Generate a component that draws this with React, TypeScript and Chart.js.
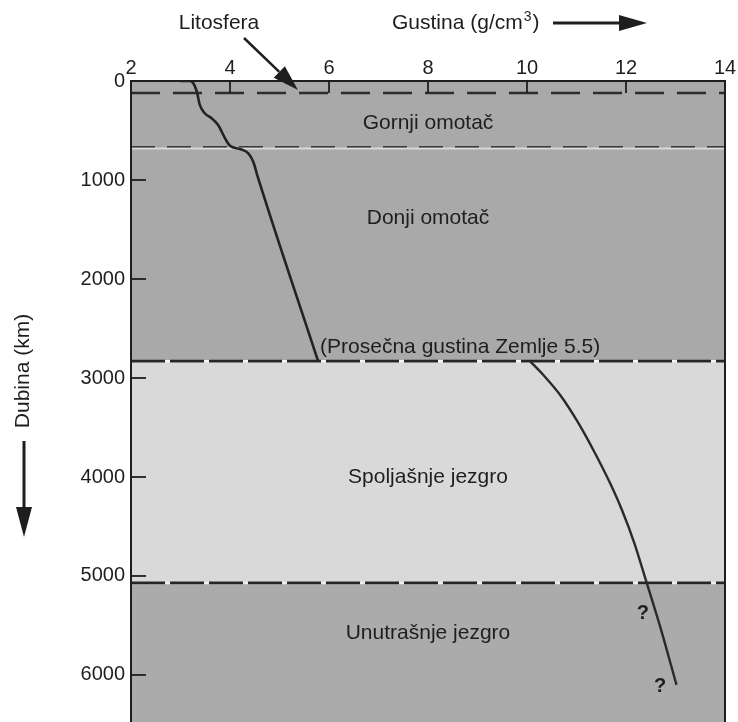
import React, { useEffect, useRef } from "react";
import { Chart, registerables } from "chart.js";

Chart.register(...registerables);

// ---- data ----
const X_TICKS = [2, 4, 6, 8, 10, 12, 14];
const Y_TICKS = [0, 1000, 2000, 3000, 4000, 5000, 6000];
const X_MIN = 2;
const X_MAX = 14;
const Y_MIN = 0;
const Y_MAX = 6475;

const MANTLE_DENSITY = [2.99, 3.19, 3.26, 3.33, 3.39, 3.49, 3.63, 3.76, 3.9, 4.0, 4.2, 4.37, 4.47, 4.55, 5.78];
const MANTLE_DEPTH = [0, 0, 23, 108, 242, 326, 377, 444, 579, 654, 687, 730, 815, 950, 2830];

const CORE_DENSITY = [10.06, 10.33, 10.67, 11.0, 11.34, 11.68, 11.92, 12.17, 12.4, 12.69, 13.02];
const CORE_DEPTH = [2830, 2970, 3172, 3424, 3727, 4064, 4336, 4670, 5040, 5512, 6100];

const LITHOSPHERE_DEPTH = 120;
const UPPER_LOWER_DEPTH = 670;
const CMB_DEPTH = 2830;
const ICB_DEPTH = 5070;

const LAYER_TOPS = [0, 670, 2830, 5070];
const LAYER_BOTTOMS = [670, 2830, 5070, 6475];
const LAYER_NAMES = ["Gornji omotač", "Donji omotač", "Spoljašnje jezgro", "Unutrašnje jezgro"];
const LAYER_LABEL_DEPTHS = [424, 1384, 4000, 5576];
const LAYER_LABEL_DENSITY = 8;

const MEAN_LABEL = "(Prosečna gustina Zemlje 5.5)";
const MEAN_LABEL_DENSITY = 5.82;
const MEAN_LABEL_DEPTH = 2687;

const QUESTION_DENSITY = [12.34, 12.69];
const QUESTION_DEPTH = [5374, 6121];

const FONT = "'Liberation Sans', Arial, sans-serif";
const INK = "#1e1e1e";

function toPoints(xs: number[], ys: number[]) {
  return xs.map((x, i) => ({ x, y: ys[i] }));
}

function hLine(ctx: CanvasRenderingContext2D, x1: number, x2: number, y: number, color: string, width: number, dash: number[]) {
  ctx.save();
  ctx.strokeStyle = color;
  ctx.lineWidth = width;
  ctx.setLineDash(dash);
  ctx.beginPath();
  ctx.moveTo(x1, y);
  ctx.lineTo(x2, y);
  ctx.stroke();
  ctx.restore();
}

function arrow(ctx: CanvasRenderingContext2D, x1: number, y1: number, x2: number, y2: number, width: number, headLen: number, headHalf: number) {
  const ang = Math.atan2(y2 - y1, x2 - x1);
  const bx = x2 - headLen * Math.cos(ang);
  const by = y2 - headLen * Math.sin(ang);
  ctx.save();
  ctx.strokeStyle = INK;
  ctx.fillStyle = INK;
  ctx.lineWidth = width;
  ctx.beginPath();
  ctx.moveTo(x1, y1);
  ctx.lineTo(bx, by);
  ctx.stroke();
  ctx.beginPath();
  ctx.moveTo(x2, y2);
  ctx.lineTo(bx + headHalf * Math.sin(ang), by - headHalf * Math.cos(ang));
  ctx.lineTo(bx - headHalf * Math.sin(ang), by + headHalf * Math.cos(ang));
  ctx.closePath();
  ctx.fill();
  ctx.restore();
}

const decorPlugin = {
  id: "decor",
  beforeDraw(chart: any) {
    const ctx = chart.ctx as CanvasRenderingContext2D;
    const { left, right } = chart.chartArea;
    const ys = chart.scales.y;
    const colors = ["#a9a9a9", "#a9a9a9", "#d9d9d9", "#ababab"];
    LAYER_TOPS.forEach((t, i) => {
      const y1 = ys.getPixelForValue(t);
      const y2 = ys.getPixelForValue(LAYER_BOTTOMS[i]);
      ctx.fillStyle = colors[i];
      ctx.fillRect(left, y1, right - left, y2 - y1);
    });
  },
  beforeDatasetsDraw(chart: any) {
    const ctx = chart.ctx as CanvasRenderingContext2D;
    const { left, right } = chart.chartArea;
    const ys = chart.scales.y;
    hLine(ctx, left, right, ys.getPixelForValue(LITHOSPHERE_DEPTH), "#2c2c2c", 2.5, [29, 13]);
    const yu = ys.getPixelForValue(UPPER_LOWER_DEPTH);
    hLine(ctx, left, right, yu - 0.5, "#3a3a3a", 1.5, [24, 12]);
    hLine(ctx, left, right, yu + 1.5, "#f2f2f2", 1, []);
    const yc = ys.getPixelForValue(CMB_DEPTH);
    hLine(ctx, left, right, yc, "#f4f4f4", 2.5, []);
    hLine(ctx, left, right, yc, "#262626", 2.8, [34, 5]);
    const yi = ys.getPixelForValue(ICB_DEPTH);
    hLine(ctx, left, right, yi, "#eeeeee", 2.5, []);
    hLine(ctx, left, right, yi, "#262626", 2.8, [34, 5]);
  },
  afterDraw(chart: any) {
    const ctx = chart.ctx as CanvasRenderingContext2D;
    const { left, right, top, bottom } = chart.chartArea;
    const xs = chart.scales.x;
    const ys = chart.scales.y;

    ctx.save();
    ctx.strokeStyle = INK;
    ctx.lineWidth = 2;
    ctx.beginPath();
    ctx.moveTo(left, bottom);
    ctx.lineTo(left, top);
    ctx.lineTo(right, top);
    ctx.lineTo(right, bottom);
    ctx.stroke();
    ctx.lineWidth = 1.8;
    const tickBottom = ys.getPixelForValue(LITHOSPHERE_DEPTH);
    X_TICKS.slice(1, -1).forEach((v) => {
      const px = xs.getPixelForValue(v);
      ctx.beginPath();
      ctx.moveTo(px, top);
      ctx.lineTo(px, tickBottom);
      ctx.stroke();
    });
    Y_TICKS.slice(1).forEach((v) => {
      const py = ys.getPixelForValue(v);
      ctx.beginPath();
      ctx.moveTo(left, py);
      ctx.lineTo(left + 15, py);
      ctx.stroke();
    });
    ctx.restore();

    ctx.save();
    ctx.fillStyle = INK;
    ctx.font = `21px ${FONT}`;
    ctx.textAlign = "center";
    ctx.textBaseline = "middle";
    LAYER_NAMES.forEach((name, i) => {
      ctx.fillText(name, xs.getPixelForValue(LAYER_LABEL_DENSITY), ys.getPixelForValue(LAYER_LABEL_DEPTHS[i]));
    });
    ctx.textAlign = "left";
    ctx.fillText(MEAN_LABEL, xs.getPixelForValue(MEAN_LABEL_DENSITY), ys.getPixelForValue(MEAN_LABEL_DEPTH));
    ctx.font = `bold 20px ${FONT}`;
    ctx.textAlign = "center";
    QUESTION_DENSITY.forEach((d, i) => {
      ctx.fillText("?", xs.getPixelForValue(d), ys.getPixelForValue(QUESTION_DEPTH[i]));
    });

    ctx.font = `21px ${FONT}`;
    ctx.textAlign = "center";
    ctx.fillText("Litosfera", 219, 23);
    arrow(ctx, 244, 38, 298, 90, 2.5, 26, 8);

    ctx.textAlign = "left";
    const gx = 392;
    const gtext = "Gustina (g/cm";
    ctx.fillText(gtext, gx, 23);
    const gw = ctx.measureText(gtext).width;
    ctx.font = `14px ${FONT}`;
    ctx.fillText("3", gx + gw + 1, 17);
    const sw = ctx.measureText("3").width;
    ctx.font = `21px ${FONT}`;
    ctx.fillText(")", gx + gw + sw + 2, 23);
    arrow(ctx, 553, 23, 647, 23, 3, 28, 8);

    ctx.save();
    ctx.translate(23, 371);
    ctx.rotate(-Math.PI / 2);
    ctx.textAlign = "center";
    ctx.font = `21px ${FONT}`;
    ctx.fillText("Dubina (km)", 0, 0);
    ctx.restore();
    arrow(ctx, 24, 441, 24, 537, 3, 30, 8);
    ctx.restore();
  },
};

export default function App() {
  const canvasRef = useRef<HTMLCanvasElement | null>(null);

  useEffect(() => {
    if (!canvasRef.current) return;
    const chart = new Chart(canvasRef.current, {
      type: "scatter",
      data: {
        datasets: [
          {
            label: "Omotač",
            data: toPoints(MANTLE_DENSITY, MANTLE_DEPTH),
            showLine: true,
            borderColor: "#232323",
            borderWidth: 2.6,
            pointRadius: 0,
            cubicInterpolationMode: "monotone",
          },
          {
            label: "Jezgro",
            data: toPoints(CORE_DENSITY, CORE_DEPTH),
            showLine: true,
            borderColor: "#2a2a2a",
            borderWidth: 2.4,
            pointRadius: 0,
            cubicInterpolationMode: "monotone",
          },
        ],
      },
      options: {
        animation: false,
        responsive: true,
        maintainAspectRatio: false,
        layout: { padding: { left: 0, right: 13, top: 0, bottom: 0 } },
        plugins: {
          legend: { display: false },
          tooltip: { enabled: false },
        },
        scales: {
          x: {
            type: "linear",
            position: "top",
            min: X_MIN,
            max: X_MAX,
            grid: { display: false, drawTicks: false },
            border: { display: false },
            ticks: {
              color: INK,
              font: { family: FONT, size: 20 },
              padding: 1,
              maxRotation: 0,
              autoSkip: false,
            },
            afterBuildTicks: (scale: any) => {
              scale.ticks = X_TICKS.map((v) => ({ value: v }));
            },
            afterFit: (scale: any) => {
              scale.height = 81;
              scale.paddingLeft = 0;
              scale.paddingRight = 0;
            },
          },
          y: {
            type: "linear",
            reverse: true,
            min: Y_MIN,
            max: Y_MAX,
            grid: { display: false, drawTicks: false },
            border: { display: false },
            ticks: {
              color: INK,
              font: { family: FONT, size: 20 },
              padding: 6,
              autoSkip: false,
              callback: (v: any) => String(v),
            },
            afterBuildTicks: (scale: any) => {
              scale.ticks = Y_TICKS.map((v) => ({ value: v }));
            },
            afterFit: (scale: any) => {
              scale.width = 131;
              scale.paddingTop = 0;
              scale.paddingBottom = 0;
            },
          },
        },
      },
      plugins: [decorPlugin],
    } as any);
    return () => chart.destroy();
  }, []);

  return (
    <div style={{ position: "fixed", left: 0, top: 0, width: 738, height: 722, background: "#ffffff" }}>
      <canvas ref={canvasRef} />
    </div>
  );
}
